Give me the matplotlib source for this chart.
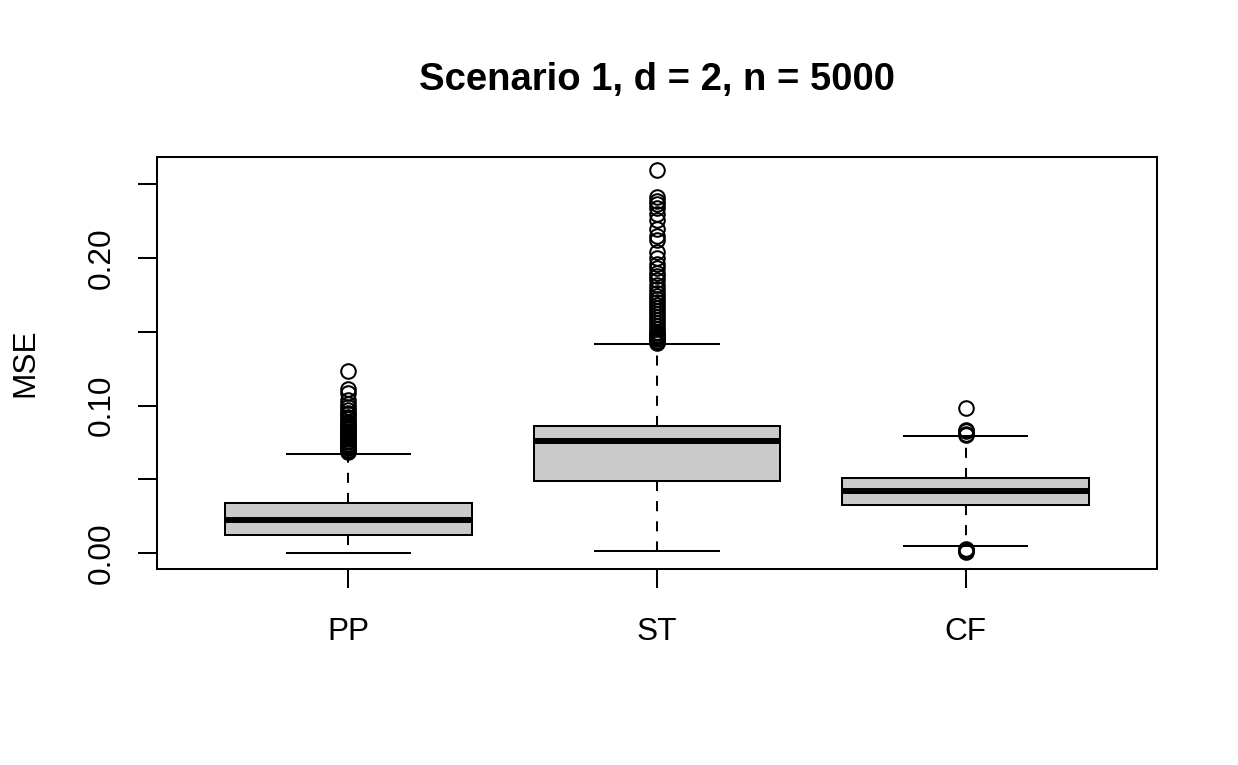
import matplotlib
matplotlib.use("Agg")
import matplotlib.pyplot as plt

plt.rcParams['font.family'] = ['Liberation Sans', 'DejaVu Sans']

# box statistics
groups = ["PP", "ST", "CF"]
q1 = [0.0122, 0.0488, 0.0325]
med = [0.0224, 0.0759, 0.0420]
q3 = [0.0339, 0.0861, 0.0508]
whislo = [0.0000, 0.0014, 0.0047]
whishi = [0.0671, 0.1417, 0.0793]

fliers_pp = [0.1236, 0.1110, 0.1085, 0.1040, 0.1010, 0.0990, 0.0970, 0.0950,
             0.0940, 0.0920, 0.0910, 0.0890, 0.0880, 0.0870, 0.0860, 0.0850,
             0.0840, 0.0830, 0.0820, 0.0810, 0.0800, 0.0790, 0.0780, 0.0770,
             0.0760, 0.0750, 0.0740, 0.0730, 0.0720, 0.0710, 0.0700, 0.0690,
             0.0685]
fliers_st = [0.2597, 0.2414, 0.2390, 0.2365, 0.2340, 0.2300, 0.2255, 0.2200,
             0.2150, 0.2120, 0.2040, 0.2000, 0.1960, 0.1930, 0.1900, 0.1880,
             0.1850, 0.1820, 0.1790, 0.1760, 0.1740, 0.1720, 0.1700, 0.1680,
             0.1660, 0.1640, 0.1620, 0.1600, 0.1580, 0.1560, 0.1540, 0.1520,
             0.1500, 0.1490, 0.1480, 0.1470, 0.1460, 0.1450, 0.1440, 0.1430,
             0.1425]
fliers_cf = [0.0983, 0.0835, 0.0825, 0.0810, 0.0800,
             0.0030, 0.0020, 0.0012, 0.0005]
fliers = [fliers_pp, fliers_st, fliers_cf]

stats = []
for i, g in enumerate(groups):
    stats.append(dict(label=g, q1=q1[i], med=med[i], q3=q3[i],
                      whislo=whislo[i], whishi=whishi[i], fliers=fliers[i]))

lw = 1.45
fig = plt.figure(figsize=(12.38, 7.65), dpi=100)
ax = fig.add_axes([157 / 1238, 1 - 569 / 765, 1000 / 1238, 412 / 765])

ax.bxp(stats, positions=[1, 2, 3], widths=0.8, capwidths=0.4,
       patch_artist=True,
       boxprops=dict(facecolor="#CACACA", edgecolor="black", linewidth=lw),
       medianprops=dict(color="black", linewidth=4.3, solid_capstyle="butt"),
       whiskerprops=dict(color="black", linewidth=lw, linestyle=(0, (5, 5))),
       capprops=dict(color="black", linewidth=lw),
       flierprops=dict(marker="o", markerfacecolor="none", markeredgecolor="black",
                       markersize=10.5, markeredgewidth=lw))

ax.set_xlim(0.38, 3.62)
ax.set_ylim(-0.0108, 0.2685)

ax.set_yticks([0.0, 0.05, 0.10, 0.15, 0.20, 0.25])
ax.set_yticklabels(["0.00", "", "0.10", "", "0.20", ""], rotation=90, va="center")
ax.set_xticks([1, 2, 3])
ax.set_xticklabels(groups)
ax.tick_params(axis="both", length=13.7, width=lw, labelsize=22.7)
ax.tick_params(axis="y", pad=15)
ax.tick_params(axis="x", pad=21)

for s in ax.spines.values():
    s.set_linewidth(lw)

fig.text(25 / 1238, 1 - 363 / 765, "MSE", rotation=90, fontsize=22.7,
         ha="center", va="center")
fig.text(657 / 1238, 1 - 80 / 765, "Scenario 1, d = 2, n = 5000",
         fontsize=27.5, fontweight="bold", ha="center", va="center")

fig.savefig("out.png", dpi=100)
